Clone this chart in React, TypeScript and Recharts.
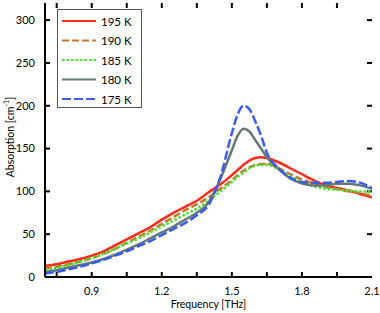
import React from 'react';
import { LineChart, Line, XAxis, YAxis, Legend, ReferenceLine } from 'recharts';

const freq = [0.7, 0.75, 0.8, 0.85, 0.9, 0.95, 1.0, 1.05, 1.1, 1.15, 1.2, 1.25, 1.3, 1.35, 1.4, 1.45, 1.5, 1.525, 1.55, 1.575, 1.6, 1.625, 1.65, 1.7, 1.75, 1.8, 1.85, 1.9, 1.95, 2.0, 2.05, 2.1];
const k195 = [13, 15, 18, 21, 25, 30, 37, 44, 51, 58, 67, 75, 82, 89, 99, 108, 119, 125, 131, 136, 139, 140, 139, 134, 127, 120, 113, 107, 104, 101, 97, 93];
const k190 = [10, 12, 15, 18, 22, 27, 33, 40, 47, 54, 62, 70, 78, 85, 93, 103, 113, 119, 124, 128, 131, 132, 132, 127, 120, 114, 109, 105, 103, 100, 98, 95];
const k185 = [8, 11, 14, 18, 22, 27, 33, 39, 45, 52, 59, 66, 73, 80, 89, 100, 111, 117, 122, 127, 130, 131, 131, 126, 118, 111, 106, 103, 102, 101, 100, 100];
const k180 = [6, 8, 11, 14, 17, 21, 26, 32, 38, 45, 52, 59, 67, 75, 87, 114, 148, 165, 173, 170, 160, 150, 140, 126, 115, 109, 107, 107, 109, 109, 107, 103];
const k175 = [4, 6, 9, 12, 16, 20, 25, 30, 36, 42, 49, 56, 63, 72, 84, 116, 168, 190, 200, 196, 182, 165, 145, 127, 116, 111, 110, 110, 111, 112, 110, 104];

const xTicks = [0.9, 1.2, 1.5, 1.8, 2.1];
const xMinorTicks = [0.75, 0.9, 1.05, 1.2, 1.35, 1.5, 1.65, 1.8, 1.95];
const yTicks = [0, 50, 100, 150, 200, 250, 300];
const yInnerTicks = [50, 100, 150, 200, 250, 300];

const seriesNames = ['195 K', '190 K', '185 K', '180 K', '175 K'];
const seriesKeys = ['k195', 'k190', 'k185', 'k180', 'k175'];
const seriesColors = ['#ff2a1a', '#c8782a', '#3ee82a', '#667878', '#3a5cf0'];
const seriesDash = ['', '7 3', '2.5 2', '', '9 3'];

const data = freq.map((f, i) => ({
  f,
  k195: k195[i],
  k190: k190[i],
  k185: k185[i],
  k180: k180[i],
  k175: k175[i],
}));

const FONT = 'Lato, "Open Sans", sans-serif';
const TICK_LEN = 5;

// Draws short inward tick marks at both ends of a reference line
const VTickShape = (p: any) => {
  const top = Math.min(p.y1, p.y2);
  const bot = Math.max(p.y1, p.y2);
  return (
    <g>
      <line x1={p.x1} x2={p.x1} y1={top} y2={top + TICK_LEN} stroke="#000" strokeWidth={2} />
      <line x1={p.x1} x2={p.x1} y1={bot} y2={bot - TICK_LEN} stroke="#000" strokeWidth={2} />
    </g>
  );
};
const HTickShape = (p: any) => {
  const l = Math.min(p.x1, p.x2);
  const r = Math.max(p.x1, p.x2);
  return (
    <g>
      <line y1={p.y1} y2={p.y1} x1={l} x2={l + TICK_LEN} stroke="#000" strokeWidth={2} />
      <line y1={p.y1} y2={p.y1} x1={r} x2={r - TICK_LEN} stroke="#000" strokeWidth={2} />
    </g>
  );
};

const YLabel = (props: any) => {
  const vb = props.viewBox || { x: 0, y: 0, width: 45, height: 274 };
  const cx = vb.x + 10;
  const cy = vb.y + vb.height / 2 - 3;
  return (
    <text
      x={cx}
      y={cy}
      transform={`rotate(-90, ${cx}, ${cy})`}
      textAnchor="middle"
      dominantBaseline="central"
      fontSize={10.5}
      fontFamily={FONT}
      fill="#000"
    >
      Absorption [cm<tspan dy={-4} fontSize={7}>-1</tspan>
      <tspan dy={4}>]</tspan>
    </text>
  );
};

const LegendBox = () => (
  <div style={{ width: 85, height: 99, border: '1px solid #555', background: '#fff', boxSizing: 'border-box' }}>
    <svg width={83} height={97}>
      {seriesNames.map((n, i) => {
        const y = 11 + i * 19.5;
        return (
          <g key={n}>
            <line x1={4} x2={38} y1={y} y2={y} stroke={seriesColors[i]} strokeWidth={2} strokeDasharray={seriesDash[i] || undefined} />
            <text x={43} y={y} dominantBaseline="central" fontSize={11.5} fontFamily={FONT} fill="#000">{n}</text>
          </g>
        );
      })}
    </svg>
  </div>
);

export default function App() {
  return (
    <div style={{ position: 'absolute', left: 0, top: 0, width: 380, height: 313, background: '#fff' }}>
      <LineChart width={380} height={313} data={data} margin={{ top: 3, right: 8, bottom: 0, left: 0 }}>
        <XAxis
          xAxisId="x"
          dataKey="f"
          type="number"
          domain={[0.7, 2.1]}
          ticks={xTicks}
          allowDataOverflow
          height={36}
          tickLine={false}
          tickSize={0}
          tickMargin={10}
          axisLine={{ stroke: '#000', strokeWidth: 2 }}
          tick={{ fill: '#000', fontSize: 11, fontFamily: FONT }}
          tickFormatter={(v: number) => v.toFixed(1)}
          label={{ value: 'Frequency [THz]', position: 'insideBottom', offset: 5, fill: '#000', fontSize: 10.5, fontFamily: FONT }}
        />
        <XAxis
          xAxisId="xt"
          type="number"
          domain={[0.7, 2.1]}
          allowDataOverflow
          orientation="top"
          mirror
          height={0}
          axisLine={{ stroke: '#000', strokeWidth: 2 }}
          tickLine={false}
          tick={false}
        />
        <YAxis
          yAxisId="y"
          type="number"
          domain={[0, 320]}
          ticks={yTicks}
          allowDataOverflow
          width={45}
          tickLine={false}
          tickSize={0}
          tickMargin={10}
          axisLine={{ stroke: '#000', strokeWidth: 2 }}
          tick={{ fill: '#000', fontSize: 11, fontFamily: FONT }}
          label={<YLabel />}
        />
        <YAxis
          yAxisId="yr"
          type="number"
          domain={[0, 320]}
          allowDataOverflow
          orientation="right"
          mirror
          width={0}
          axisLine={{ stroke: '#000', strokeWidth: 2 }}
          tickLine={false}
          tick={false}
        />
        {xMinorTicks.map((v) => (
          <ReferenceLine key={`xt${v}`} xAxisId="x" yAxisId="y" x={v} shape={VTickShape} ifOverflow="visible" />
        ))}
        {yInnerTicks.map((v) => (
          <ReferenceLine key={`yt${v}`} xAxisId="x" yAxisId="y" y={v} shape={HTickShape} ifOverflow="visible" />
        ))}
        <Legend
          layout="vertical"
          align="center"
          verticalAlign="middle"
          content={<LegendBox />}
          wrapperStyle={{ left: 57, top: 9, width: 85, height: 99 }}
        />
        {seriesKeys.map((k, i) => (
          <Line
            key={k}
            xAxisId="x"
            yAxisId="y"
            dataKey={k}
            name={seriesNames[i]}
            type="monotone"
            stroke={seriesColors[i]}
            strokeWidth={2.5}
            strokeDasharray={seriesDash[i] || undefined}
            dot={false}
            activeDot={false}
            isAnimationActive={false}
          />
        ))}
      </LineChart>
    </div>
  );
}
